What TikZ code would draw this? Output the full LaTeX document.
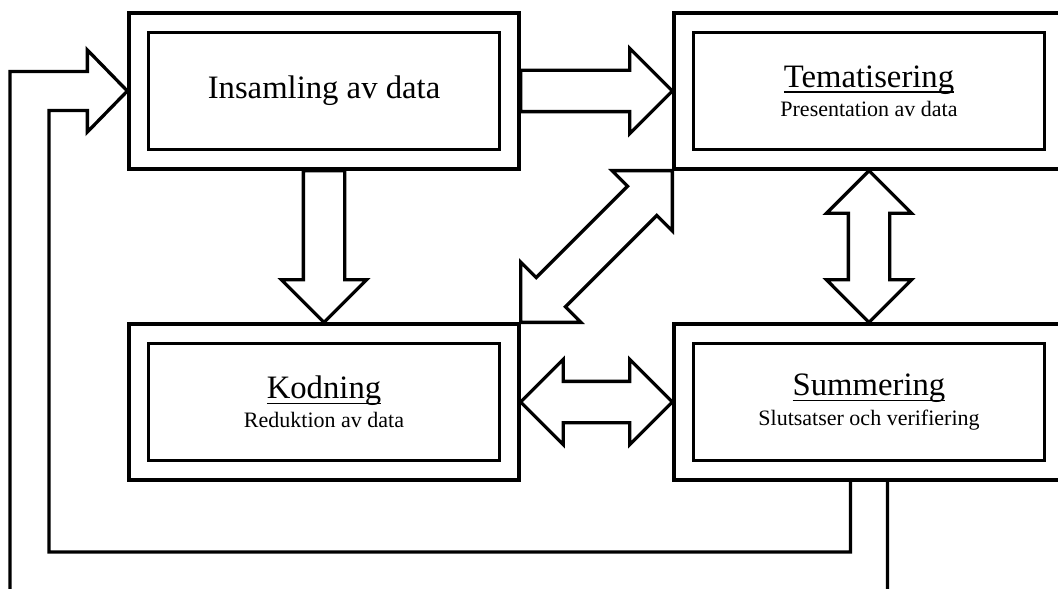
\documentclass[tikz,border=0pt]{standalone}
\usepackage{amsmath}
\usepackage{fontspec}
\setmainfont{Liberation Serif}
\usepackage{tikz}
\usetikzlibrary{shapes.arrows,calc}
\tikzstyle{stage} = [draw,line width=1.65pt,double,double distance=8.1pt,outer sep=5.7pt,minimum width=185.25pt,minimum height=68.25pt,align=center,font=\fontsize{11}{14.65}\selectfont]
\tikzstyle{fat} = [draw,single arrow,line width=1.65pt,inner sep=0pt,inner ysep=9.5pt,single arrow head extend=11pt,single arrow tip angle=90,outer sep=0pt]
\tikzstyle{twoway} = [draw,double arrow,line width=1.65pt,inner sep=0pt,inner ysep=9.5pt,double arrow head extend=11pt,double arrow tip angle=90,outer sep=0pt]
\newcommand{\heading}[1]{{\fontsize{16.35}{14.65}\selectfont\underline{\smash[b]{#1}}}}

\begin{document}
\begin{tikzpicture}[x=0.5pt,y=-0.5pt]
  \useasboundingbox (0,0) rectangle (1058,588);
  \clip (0,0) rectangle (1058,588);

  \node[stage,font=\fontsize{16.35}{19}\selectfont] (ins) at (324,91) {Insamling av data};
  \node[stage] (tem) at (869,91) {\heading{Tematisering}\\Presentation av data};
  \node[stage] (kod) at (324,402) {\heading{Kodning}\\Reduktion av data};
  \node[stage] (sum) at (869,402) {\heading{Summering}\\Slutsatser och verifiering};

  \node[fat,minimum height=75.85pt,anchor=tail] (a1) at (ins.east) {};
  \node[fat,minimum height=75.85pt,rotate=-90,anchor=tail] (a2) at (ins.south) {};
  \node[twoway,minimum height=75.85pt] (a3) at ($(kod.east)!0.5!(sum.west)$) {};
  \node[twoway,minimum height=75.85pt,rotate=90] (a4) at ($(tem.south)!0.5!(sum.north)$) {};
  \node[twoway,minimum height=107.27pt,rotate=45] (a5) at ($(kod.north east)!0.5!(tem.south west)$) {};

  \coordinate (back) at ($(ins.west)+(-40,0)$);
  \draw[line width=1.65pt] ($(sum.south)+(-18.5,0)$) |- (49,552) |- ($(back)+(0,19.5)$) -- ($(back)+(0,41)$) -- (ins.west) -- ($(back)+(0,-41)$) -- ($(back)+(0,-19.5)$) -| (10,591) -| ($(sum.south)+(18.5,0)$);
\end{tikzpicture}
\end{document}
